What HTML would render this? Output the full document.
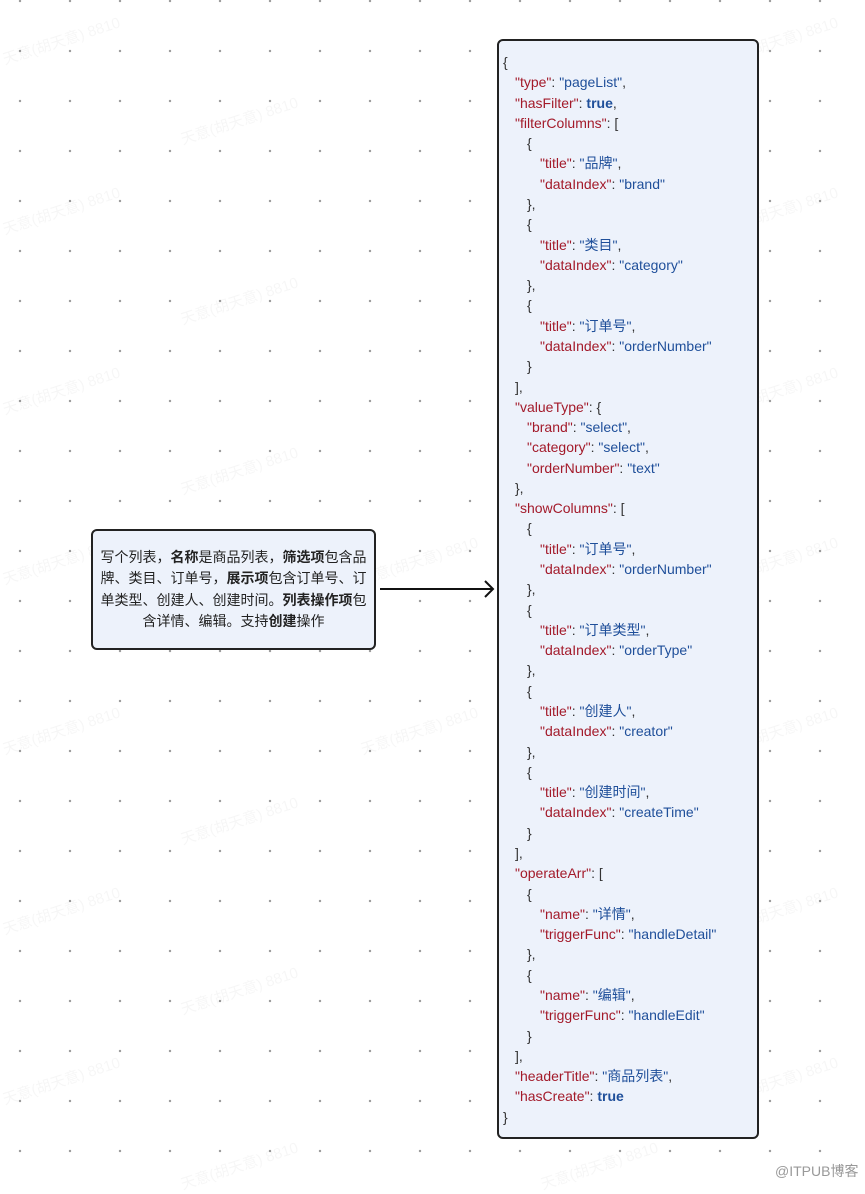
<!DOCTYPE html>
<html><head><meta charset="utf-8">
<style>
html,body{margin:0;padding:0;background:#fff;}
body{width:865px;height:1187px;position:relative;overflow:hidden;font-family:"Liberation Sans","Noto Sans CJK SC",sans-serif;
background-image:radial-gradient(circle,#9a9a9a 1px,transparent 1.4px);background-size:50px 50px;background-position:-5px -24px;}
.wm{position:absolute;color:rgba(0,0,0,0.035);font-size:15px;transform:rotate(-18deg);white-space:nowrap;}
#json{position:absolute;left:497px;top:39px;width:262px;height:1100px;background:#edf2fb;border:2px solid #222;border-radius:6px;box-sizing:border-box;padding-top:11px;}
.l{height:20.29px;line-height:20.29px;font-size:14px;white-space:nowrap;color:#333;padding-left:4px;}
.k{color:#a31a2a}.s{color:#1f4f9a}.b{color:#1f4f9a;font-weight:bold}
.i1{padding-left:16px}.i2{padding-left:28px}.i3{padding-left:41px}
#note{position:absolute;left:91px;top:529px;width:285px;height:121px;background:#edf2fb;border:2px solid #222;border-radius:6px;box-sizing:border-box;display:flex;align-items:center;justify-content:center;text-align:center;font-size:14px;line-height:21.5px;color:#222;padding:0 6px;}
</style></head><body>
<div class="wm" style="left:0;top:30px">天意(胡天意) 8810</div>
<div class="wm" style="left:178px;top:110px">天意(胡天意) 8810</div>
<div class="wm" style="left:0;top:200px">天意(胡天意) 8810</div>
<div class="wm" style="left:178px;top:290px">天意(胡天意) 8810</div>
<div class="wm" style="left:0;top:380px">天意(胡天意) 8810</div>
<div class="wm" style="left:178px;top:460px">天意(胡天意) 8810</div>
<div class="wm" style="left:0;top:550px">天意(胡天意) 8810</div>
<div class="wm" style="left:0;top:720px">天意(胡天意) 8810</div>
<div class="wm" style="left:178px;top:810px">天意(胡天意) 8810</div>
<div class="wm" style="left:0;top:900px">天意(胡天意) 8810</div>
<div class="wm" style="left:178px;top:980px">天意(胡天意) 8810</div>
<div class="wm" style="left:0;top:1070px">天意(胡天意) 8810</div>
<div class="wm" style="left:178px;top:1155px">天意(胡天意) 8810</div>
<div class="wm" style="left:718px;top:30px">天意(胡天意) 8810</div>
<div class="wm" style="left:718px;top:200px">天意(胡天意) 8810</div>
<div class="wm" style="left:718px;top:380px">天意(胡天意) 8810</div>
<div class="wm" style="left:718px;top:550px">天意(胡天意) 8810</div>
<div class="wm" style="left:718px;top:720px">天意(胡天意) 8810</div>
<div class="wm" style="left:718px;top:900px">天意(胡天意) 8810</div>
<div class="wm" style="left:718px;top:1070px">天意(胡天意) 8810</div>
<div class="wm" style="left:358px;top:550px">天意(胡天意) 8810</div>
<div class="wm" style="left:358px;top:720px">天意(胡天意) 8810</div>
<div class="wm" style="left:538px;top:1155px">天意(胡天意) 8810</div>

<div id="note"><div>写个列表，<b>名称</b>是商品列表，<b>筛选项</b>包含品牌、类目、订单号，<b>展示项</b>包含订单号、订单类型、创建人、创建时间。<b>列表操作项</b>包含详情、编辑。支持<b>创建</b>操作</div></div>

<svg style="position:absolute;left:0;top:0" width="865" height="1187">
<line x1="380" y1="589" x2="493" y2="589" stroke="#111" stroke-width="2"/>
<polyline points="485,581 493,589 485,597" fill="none" stroke="#111" stroke-width="2"/>
</svg>

<div id="json">
<div class="l">{</div>
<div class="l i1"><span class="k">"type"</span>: <span class="s">"pageList"</span>,</div>
<div class="l i1"><span class="k">"hasFilter"</span>: <span class="b">true</span>,</div>
<div class="l i1"><span class="k">"filterColumns"</span>: [</div>
<div class="l i2">{</div>
<div class="l i3"><span class="k">"title"</span>: <span class="s">"品牌"</span>,</div>
<div class="l i3"><span class="k">"dataIndex"</span>: <span class="s">"brand"</span></div>
<div class="l i2">},</div>
<div class="l i2">{</div>
<div class="l i3"><span class="k">"title"</span>: <span class="s">"类目"</span>,</div>
<div class="l i3"><span class="k">"dataIndex"</span>: <span class="s">"category"</span></div>
<div class="l i2">},</div>
<div class="l i2">{</div>
<div class="l i3"><span class="k">"title"</span>: <span class="s">"订单号"</span>,</div>
<div class="l i3"><span class="k">"dataIndex"</span>: <span class="s">"orderNumber"</span></div>
<div class="l i2">}</div>
<div class="l i1">],</div>
<div class="l i1"><span class="k">"valueType"</span>: {</div>
<div class="l i2"><span class="k">"brand"</span>: <span class="s">"select"</span>,</div>
<div class="l i2"><span class="k">"category"</span>: <span class="s">"select"</span>,</div>
<div class="l i2"><span class="k">"orderNumber"</span>: <span class="s">"text"</span></div>
<div class="l i1">},</div>
<div class="l i1"><span class="k">"showColumns"</span>: [</div>
<div class="l i2">{</div>
<div class="l i3"><span class="k">"title"</span>: <span class="s">"订单号"</span>,</div>
<div class="l i3"><span class="k">"dataIndex"</span>: <span class="s">"orderNumber"</span></div>
<div class="l i2">},</div>
<div class="l i2">{</div>
<div class="l i3"><span class="k">"title"</span>: <span class="s">"订单类型"</span>,</div>
<div class="l i3"><span class="k">"dataIndex"</span>: <span class="s">"orderType"</span></div>
<div class="l i2">},</div>
<div class="l i2">{</div>
<div class="l i3"><span class="k">"title"</span>: <span class="s">"创建人"</span>,</div>
<div class="l i3"><span class="k">"dataIndex"</span>: <span class="s">"creator"</span></div>
<div class="l i2">},</div>
<div class="l i2">{</div>
<div class="l i3"><span class="k">"title"</span>: <span class="s">"创建时间"</span>,</div>
<div class="l i3"><span class="k">"dataIndex"</span>: <span class="s">"createTime"</span></div>
<div class="l i2">}</div>
<div class="l i1">],</div>
<div class="l i1"><span class="k">"operateArr"</span>: [</div>
<div class="l i2">{</div>
<div class="l i3"><span class="k">"name"</span>: <span class="s">"详情"</span>,</div>
<div class="l i3"><span class="k">"triggerFunc"</span>: <span class="s">"handleDetail"</span></div>
<div class="l i2">},</div>
<div class="l i2">{</div>
<div class="l i3"><span class="k">"name"</span>: <span class="s">"编辑"</span>,</div>
<div class="l i3"><span class="k">"triggerFunc"</span>: <span class="s">"handleEdit"</span></div>
<div class="l i2">}</div>
<div class="l i1">],</div>
<div class="l i1"><span class="k">"headerTitle"</span>: <span class="s">"商品列表"</span>,</div>
<div class="l i1"><span class="k">"hasCreate"</span>: <span class="b">true</span></div>
<div class="l">}</div>
</div>

<div style="position:absolute;left:775px;top:1161px;font-size:14px;color:#999;">@ITPUB博客</div>
</body></html>
